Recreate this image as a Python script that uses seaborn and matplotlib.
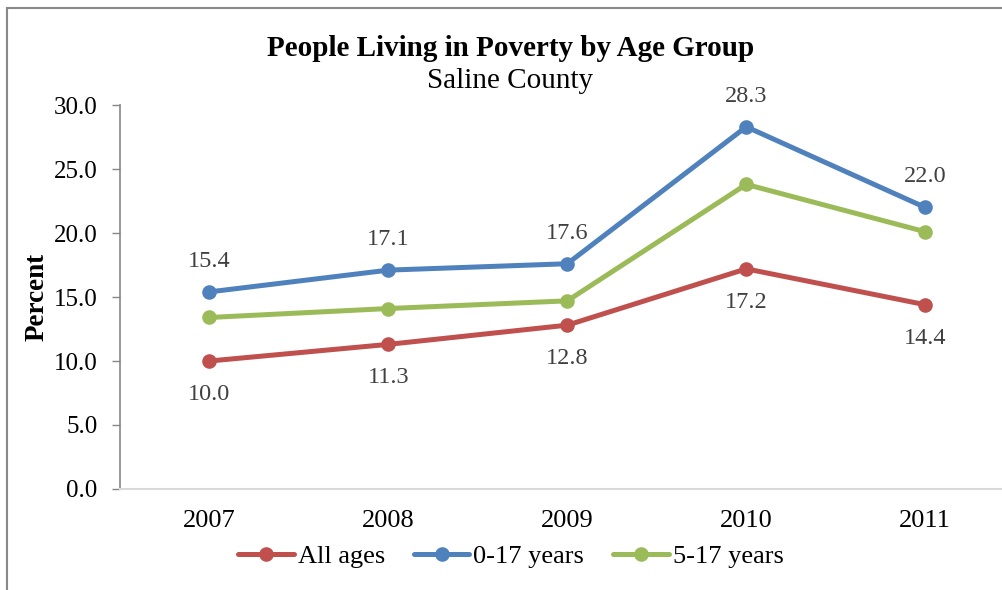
import matplotlib
matplotlib.use("Agg")
import matplotlib.pyplot as plt
import seaborn as sns
import pandas as pd
from matplotlib.patches import Rectangle
from matplotlib.lines import Line2D

years = ["2007", "2008", "2009", "2010", "2011"]
all_ages = [10.0, 11.3, 12.8, 17.2, 14.4]
age_0_17 = [15.4, 17.1, 17.6, 28.3, 22.0]
age_5_17 = [13.4, 14.1, 14.7, 23.8, 20.1]
series_names = ["All ages", "0-17 years", "5-17 years"]
colors = ["#C0504D", "#4F81BD", "#9BBB59"]
yticks = [0, 5, 10, 15, 20, 25, 30]

sns.set_theme(style="white")
plt.rcParams["font.family"] = ["Liberation Serif", "DejaVu Serif"]
plt.rcParams["text.color"] = "black"

df = pd.DataFrame({
    "Year": years * 3,
    "Percent": all_ages + age_0_17 + age_5_17,
    "Series": [series_names[0]] * 5 + [series_names[1]] * 5 + [series_names[2]] * 5,
})

fig = plt.figure(figsize=(10.03, 5.90), dpi=100)
ax = fig.add_axes([0.1196, 0.1712, 0.892, 0.6508])

sns.lineplot(data=df, x="Year", y="Percent", hue="Series", palette=colors,
             hue_order=series_names, marker="o", markersize=10.5, markeredgewidth=0,
             linewidth=3.6, ax=ax, legend=False, sort=False)

ax.set_xlim(-0.5, 4.5)
ax.set_ylim(0, 30)
ax.set_yticks(yticks)
ax.set_yticklabels([f"{v:.1f}" for v in yticks])
ax.tick_params(axis="y", which="both", left=True, length=6, width=1, color="#868686",
               labelsize=18, pad=10, labelcolor="black")
ax.tick_params(axis="x", length=0, labelsize=19, pad=15, labelcolor="black")
for s in ["top", "right"]:
    ax.spines[s].set_visible(False)
ax.spines["left"].set_color("#868686")
ax.spines["left"].set_linewidth(1.2)
ax.spines["bottom"].set_color("#D9D9D9")
ax.spines["bottom"].set_linewidth(1.5)
ax.set_xlabel("")
ax.set_ylabel("Percent", fontsize=19.5, fontweight="bold", color="black")
ax.yaxis.set_label_coords((37 - 120) / 894.7, (489 - 296.5) / 384)
ax.yaxis.label.set_verticalalignment("center")

# data labels
for i, v in enumerate(age_0_17):
    ax.annotate(f"{v:.1f}", (i, v), xytext=(0, 22), textcoords="offset points",
                ha="center", va="center", fontsize=17.5, color="#404040")
for i, v in enumerate(all_ages):
    ax.annotate(f"{v:.1f}", (i, v), xytext=(0, -24), textcoords="offset points",
                ha="center", va="center", fontsize=17.5, color="#404040")

fig.text(0.509, 1 - 48 / 590, "People Living in Poverty by Age Group", ha="center",
         va="center", fontsize=21, fontweight="bold", color="black")
fig.text(0.509, 1 - 81 / 590, "Saline County", ha="center", va="center", fontsize=21,
         color="black")

handles = [Line2D([0], [0], color=c, lw=3.6, marker="o", markersize=10.5, markeredgewidth=0)
           for c in colors]
fig.legend(handles, series_names, loc="center", bbox_to_anchor=(511 / 1003, 1 - 556 / 590),
           ncol=3, frameon=False, fontsize=19, handlelength=2.1, handletextpad=0.15,
           columnspacing=1.1)

fig.patches.append(Rectangle((0.007, -0.1), 1.2, 1.0864, transform=fig.transFigure,
                             fill=False, edgecolor="#888888", linewidth=1.5))

fig.savefig("out.png", dpi=100)
